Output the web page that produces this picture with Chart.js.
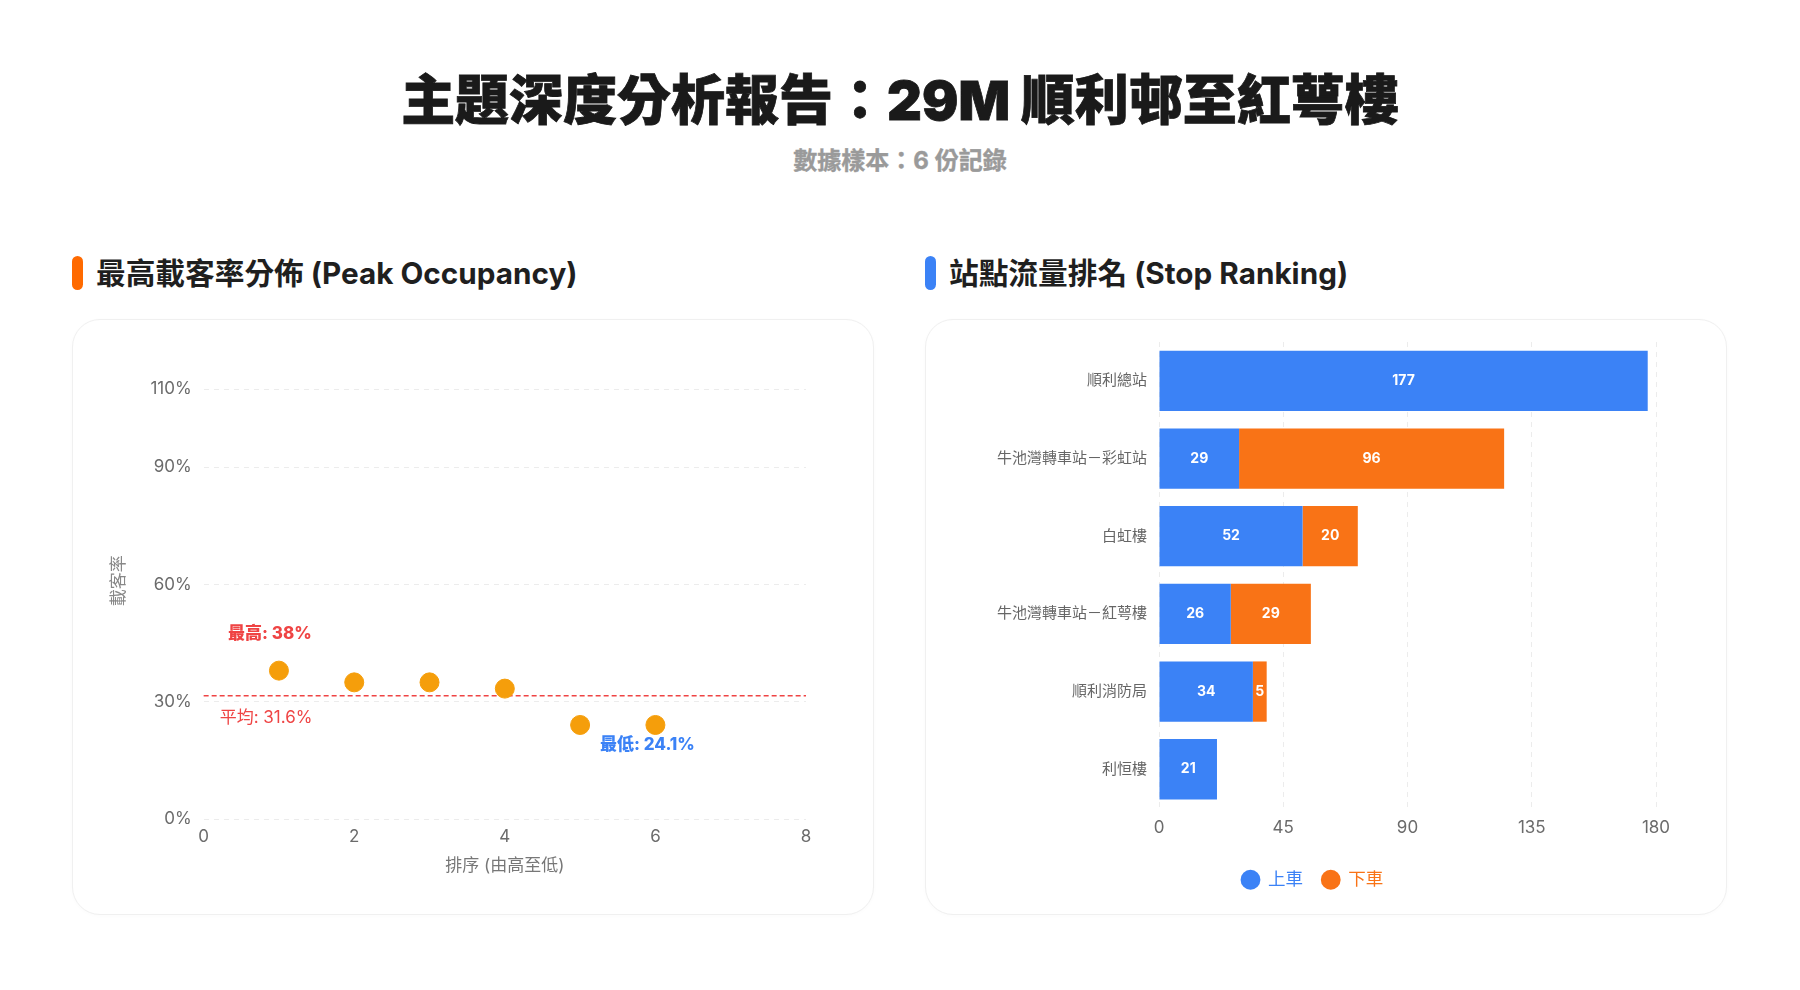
<!DOCTYPE html>
<html lang="zh-Hant">
<head>
<meta charset="utf-8">
<title>主題深度分析報告：29M 順利邨至紅萼樓</title>
<script src="https://cdn.jsdelivr.net/npm/chart.js@4.4.1/dist/chart.umd.min.js"></script>
<style>
  html, body { margin: 0; padding: 0; background: #fff; }
  body {
    width: 1800px; height: 990px; position: relative; overflow: hidden;
    font-family: Inter, "Noto Sans CJK TC", sans-serif;
  }
  .title {
    position: absolute; left: 0; top: 68px; width: 1800px; text-align: center;
    font-size: 54px; font-weight: 900; color: #1a1a1a; line-height: 66px;
    -webkit-text-stroke: 0.8px #1a1a1a;
  }
  .subtitle {
    position: absolute; left: 0; top: 146px; width: 1800px; text-align: center;
    font-size: 24px; font-weight: 700; color: #9a9a9a; line-height: 30px;
    -webkit-text-stroke: 0.4px #9a9a9a;
  }
  .panel-title {
    position: absolute; top: 255px; height: 36px; line-height: 36px;
    font-size: 29.7px; font-weight: 700; color: #1f1f1f; padding-left: 24px;
  }
  .panel-title::before {
    content: ""; position: absolute; left: 0; top: 1px; width: 11px; height: 34px;
    border-radius: 6px; background: var(--accent);
  }
  .card {
    position: absolute; top: 319px; width: 802px; height: 596px;
    border: 1px solid #f0f0f0; border-radius: 28px; background: #fff;
    box-sizing: border-box; box-shadow: 0 1px 4px rgba(0,0,0,0.02);
  }
  .card canvas { position: absolute; left: 0; top: 0; }
</style>
</head>
<body>
<div class="title">主題深度分析報告：29M 順利邨至紅萼樓</div>
<div class="subtitle">數據樣本：6 份記錄</div>

<div class="panel-title" style="left:72px; --accent:#ff6a00;">最高載客率分佈 (Peak Occupancy)</div>
<div class="panel-title" style="left:925px; --accent:#3b82f6;">站點流量排名 (Stop Ranking)</div>

<div class="card" style="left:72px;"><canvas id="occChart" width="800" height="594"></canvas></div>
<div class="card" style="left:925px;"><canvas id="stopChart" width="800" height="594"></canvas></div>

<script>
// peak occupancy, sorted high to low
const rankX = [1, 2, 3, 4, 5, 6];
const peakOccupancy = [38.0, 35.0, 35.0, 33.4, 24.1, 24.1];
const occTicks = [0, 30, 60, 90, 110];

// stop ranking
const stops = ['順利總站', '牛池灣轉車站－彩虹站', '白虹樓', '牛池灣轉車站－紅萼樓', '順利消防局', '利恒樓'];
const boarding = [177, 29, 52, 26, 34, 21];
const alighting = [0, 96, 20, 29, 5, 0];

const FONT = "Inter, 'Noto Sans CJK TC', sans-serif";
Chart.defaults.font.family = FONT;
Chart.defaults.color = '#6b7280';
Chart.defaults.animation = false;

const RED = '#ef4444';
const BLUE = '#3b82f6';
const ORANGE = '#f97316';
const AMBER = '#f59e0b';
const TICK = '#6b6b6b';

const avgOcc = peakOccupancy.reduce((a, b) => a + b, 0) / peakOccupancy.length;

const occMarks = {
  id: 'occMarks',
  beforeDatasetsDraw(chart) {
    const { ctx, chartArea, scales } = chart;
    const y = scales.y.getPixelForValue(avgOcc);
    ctx.save();
    ctx.strokeStyle = RED;
    ctx.lineWidth = 1.5;
    ctx.setLineDash([5, 3]);
    ctx.beginPath();
    ctx.moveTo(chartArea.left, y);
    ctx.lineTo(chartArea.right, y);
    ctx.stroke();
    ctx.setLineDash([]);
    ctx.fillStyle = RED;
    ctx.font = '17px ' + FONT;
    ctx.textAlign = 'left';
    ctx.textBaseline = 'middle';
    ctx.fillText('平均: ' + avgOcc.toFixed(1) + '%', chartArea.left + 16, y + 22);
    ctx.restore();
  },
  afterDatasetsDraw(chart) {
    const { ctx, scales } = chart;
    const maxV = Math.max(...peakOccupancy);
    const minV = Math.min(...peakOccupancy);
    const iMax = peakOccupancy.indexOf(maxV);
    const iMin = peakOccupancy.lastIndexOf(minV);
    ctx.save();
    ctx.font = '800 17px ' + FONT;
    ctx.textAlign = 'center';
    ctx.textBaseline = 'middle';
    ctx.fillStyle = RED;
    ctx.fillText('最高: ' + maxV + '%',
      scales.x.getPixelForValue(rankX[iMax]) - 9, scales.y.getPixelForValue(maxV) - 37);
    ctx.fillStyle = BLUE;
    ctx.fillText('最低: ' + minV + '%',
      scales.x.getPixelForValue(rankX[iMin]) - 8, scales.y.getPixelForValue(minV) + 20);
    ctx.restore();
  }
};

new Chart(document.getElementById('occChart'), {
  type: 'scatter',
  data: {
    datasets: [{
      label: '載客率',
      data: rankX.map((x, i) => ({ x, y: peakOccupancy[i] })),
      backgroundColor: AMBER,
      borderColor: AMBER,
      pointRadius: 9.5,
      pointHoverRadius: 9.5
    }]
  },
  options: {
    responsive: false,
    layout: { padding: { top: 10, left: 36, right: 67, bottom: 37.5 } },
    plugins: { legend: { display: false }, tooltip: { enabled: false } },
    scales: {
      x: {
        type: 'linear', min: 0, max: 8,
        ticks: { stepSize: 2, padding: 7, font: { size: 17 }, color: TICK },
        grid: { display: false, drawTicks: false },
        border: { display: false },
        title: { display: true, text: '排序 (由高至低)', color: '#777', font: { size: 17 }, padding: { top: 2.5, bottom: 0 } }
      },
      y: {
        min: 0, max: 122,
        afterBuildTicks(axis) { axis.ticks = occTicks.map(v => ({ value: v })); },
        ticks: { padding: 12, font: { size: 17 }, color: TICK, callback: v => v + '%' },
        grid: { color: '#ececec', drawTicks: false },
        border: { display: false, dash: [5, 5] },
        title: { display: true, text: '載客率', color: '#888', font: { size: 17 }, padding: { top: 0, bottom: 9 } }
      }
    }
  },
  plugins: [occMarks]
});

const barLabels = {
  id: 'barLabels',
  afterDatasetsDraw(chart) {
    const { ctx } = chart;
    ctx.save();
    ctx.font = 'bold 14px ' + FONT;
    ctx.fillStyle = '#fff';
    ctx.textAlign = 'center';
    ctx.textBaseline = 'middle';
    chart.data.datasets.forEach((ds, di) => {
      chart.getDatasetMeta(di).data.forEach((bar, i) => {
        const v = ds.data[i];
        if (!v) return;
        ctx.fillText(String(v), (bar.x + bar.base) / 2, bar.y);
      });
    });
    ctx.restore();
  }
};

new Chart(document.getElementById('stopChart'), {
  type: 'bar',
  data: {
    labels: stops,
    datasets: [
      { label: '上車', data: boarding, backgroundColor: BLUE },
      { label: '下車', data: alighting, backgroundColor: ORANGE }
    ]
  },
  options: {
    indexAxis: 'y',
    responsive: false,
    barPercentage: 0.97,
    categoryPercentage: 0.8,
    layout: { padding: { top: 22, left: 43, right: 70, bottom: 15.5 } },
    plugins: {
      tooltip: { enabled: false },
      legend: {
        position: 'bottom',
        labels: {
          usePointStyle: true,
          pointStyle: 'circle',
          boxHeight: 14,
          padding: 19,
          font: { size: 17.5 },
          generateLabels(chart) {
            return Chart.defaults.plugins.legend.labels.generateLabels(chart).map(item => {
              item.fontColor = chart.data.datasets[item.datasetIndex].backgroundColor;
              return item;
            });
          }
        }
      }
    },
    scales: {
      x: {
        stacked: true, min: 0, max: 180,
        ticks: { stepSize: 45, padding: 10, font: { size: 17 }, color: TICK },
        grid: { color: '#ececec', drawTicks: false },
        border: { display: false, dash: [5, 5] },
        afterFit(axis) { axis.height += 3.5; }
      },
      y: {
        stacked: true,
        ticks: { padding: 12, font: { size: 15 }, color: '#666' },
        grid: { display: false, drawTicks: false },
        border: { display: false },
        afterFit(axis) { axis.width += 16; }
      }
    }
  },
  plugins: [barLabels]
});
</script>
</body>
</html>
